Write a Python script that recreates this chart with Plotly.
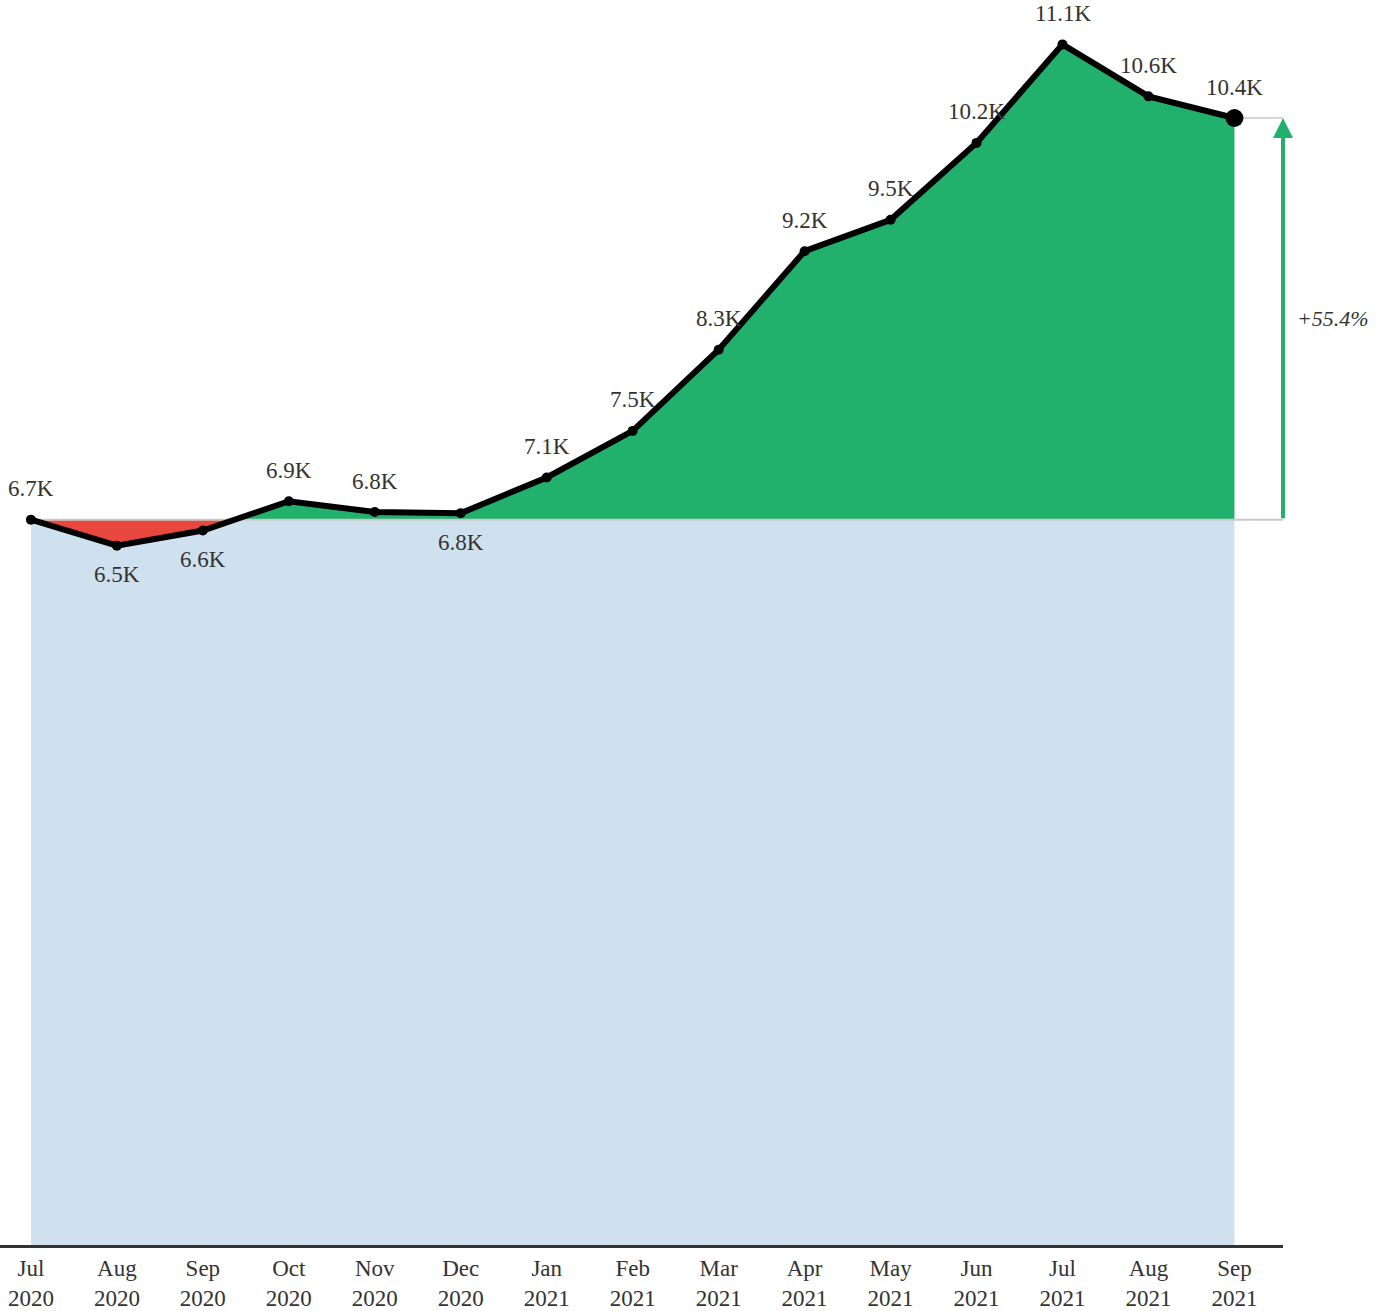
import plotly.graph_objects as go

months = ["Jul", "Aug", "Sep", "Oct", "Nov", "Dec", "Jan", "Feb", "Mar", "Apr",
          "May", "Jun", "Jul", "Aug", "Sep"]
years = ["2020"] * 6 + ["2021"] * 9
values = [6.70, 6.46, 6.60, 6.87, 6.77, 6.76, 7.09, 7.52, 8.27, 9.18,
          9.47, 10.18, 11.09, 10.61, 10.41]
label_below = [False, True, True, False, False, True, False, False, False, False,
               False, False, False, False, False]

FONT = "Liberation Serif, Times New Roman, serif"
TXT = "#333333"
GREEN = "#22b06d"
RED = "#e8473d"
BLUE = "#cfe1ef"

n = len(values)
xs = list(range(n))
base = values[0]
last = values[-1]
arrow_x = n - 1 + 0.565

# augmented series with baseline crossing points (for the fills)
ax_, ay_ = [], []
for i in range(n):
    if i > 0:
        a, b = values[i - 1] - base, values[i] - base
        if a * b < 0:
            t = a / (a - b)
            ax_.append(xs[i - 1] + t)
            ay_.append(base)
    ax_.append(xs[i])
    ay_.append(values[i])
upper = [max(v, base) for v in ay_]
lower = [min(v, base) for v in ay_]

fig = go.Figure()
fig.add_trace(go.Scatter(x=[xs[0], xs[-1]], y=[base, base], mode="lines",
                         line=dict(width=0), fill="tozeroy", fillcolor=BLUE,
                         hoverinfo="skip", showlegend=False))
fig.add_trace(go.Scatter(x=ax_, y=[base] * len(ax_), mode="lines", line=dict(width=0),
                         hoverinfo="skip", showlegend=False))
fig.add_trace(go.Scatter(x=ax_, y=upper, mode="lines", line=dict(width=0),
                         fill="tonexty", fillcolor=GREEN, hoverinfo="skip", showlegend=False))
fig.add_trace(go.Scatter(x=ax_, y=[base] * len(ax_), mode="lines", line=dict(width=0),
                         hoverinfo="skip", showlegend=False))
fig.add_trace(go.Scatter(x=ax_, y=lower, mode="lines", line=dict(width=0),
                         fill="tonexty", fillcolor=RED, hoverinfo="skip", showlegend=False))
fig.add_trace(go.Scatter(x=[xs[0], arrow_x], y=[base, base], mode="lines",
                         line=dict(color="#c8c8c8", width=2), hoverinfo="skip", showlegend=False))
fig.add_trace(go.Scatter(x=[xs[-1], arrow_x], y=[last, last], mode="lines",
                         line=dict(color="#c8c8c8", width=1.5), hoverinfo="skip", showlegend=False))
fig.add_trace(go.Scatter(x=xs, y=values, mode="lines+markers",
                         line=dict(color="black", width=6),
                         marker=dict(color="black", size=10),
                         showlegend=False))
fig.add_trace(go.Scatter(x=[xs[-1]], y=[last], mode="markers",
                         marker=dict(color="black", size=18), showlegend=False))

annotations = []
for x, v, below in zip(xs, values, label_below):
    annotations.append(dict(x=x, y=v, xref="x", yref="y", text=f"{v:.1f}K",
                            showarrow=False, yshift=-29 if below else 31,
                            font=dict(family=FONT, size=23, color=TXT)))
annotations.append(dict(x=arrow_x, y=last, ax=arrow_x, ay=base, xref="x", yref="y",
                        axref="x", ayref="y", showarrow=True, arrowhead=2,
                        arrowsize=1, arrowwidth=4, arrowcolor=GREEN, text=""))
pct = (last / base - 1) * 100
annotations.append(dict(x=arrow_x, y=(base + last) / 2, xref="x", yref="y",
                        text=f"<i>+{pct:.1f}%</i>", showarrow=False, xanchor="left",
                        xshift=12, font=dict(family=FONT, size=22, color=TXT)))

fig.update_layout(
    width=1376, height=1311,
    margin=dict(l=0, r=93, t=0, b=66),
    paper_bgcolor="white", plot_bgcolor="white",
    annotations=annotations,
    xaxis=dict(range=[-0.36, arrow_x], tickmode="array", tickvals=xs,
               ticktext=[f"{m}<br>{y}" for m, y in zip(months, years)],
               showgrid=False, zeroline=False, showline=True, linecolor="#333333",
               linewidth=3, ticks="",
               tickfont=dict(family=FONT, size=23, color=TXT)),
    yaxis=dict(range=[0, 11.5], visible=False, showgrid=False, zeroline=False),
)

fig.write_html("out.html", config={"displayModeBar": False},
               post_script="document.body.style.margin='0';document.body.style.overflow='hidden';")
